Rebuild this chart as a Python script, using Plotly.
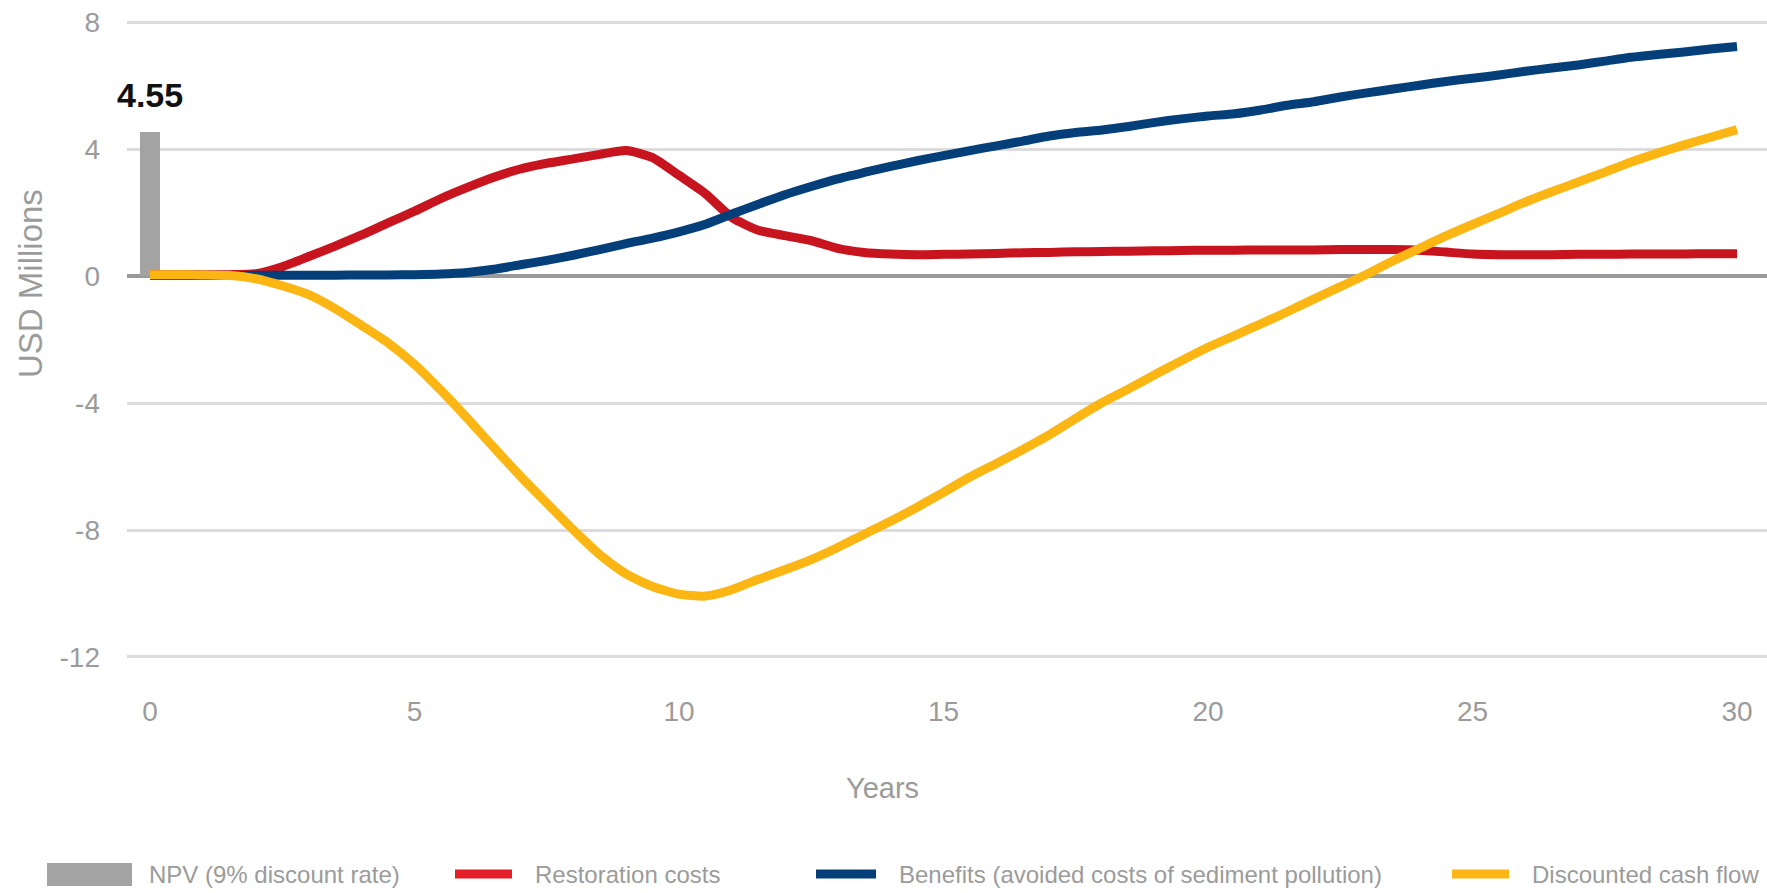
import plotly.graph_objects as go

# ---------------- data ----------------
years = [0, 0.5, 1, 1.5, 2, 2.5, 3, 3.5, 4, 4.5, 5, 5.5, 6, 6.5, 7, 7.5, 8, 8.5, 9, 9.5,
         10, 10.5, 11, 11.5, 12, 12.5, 13, 13.5, 14, 14.5, 15, 15.5, 16, 16.5, 17, 17.5,
         18, 18.5, 19, 19.5, 20, 20.5, 21, 21.5, 22, 22.5, 23, 23.5, 24, 24.5, 25, 25.5,
         26, 26.5, 27, 27.5, 28, 28.5, 29, 29.5, 30]

restoration_costs = [0.05, 0.05, 0.05, 0.05, 0.08, 0.30, 0.62, 0.95, 1.30, 1.68, 2.05, 2.45,
                     2.80, 3.12, 3.38, 3.56, 3.70, 3.84, 3.96, 3.74, 3.18, 2.60, 1.85, 1.45,
                     1.28, 1.12, 0.88, 0.75, 0.70, 0.68, 0.69, 0.70, 0.72, 0.74, 0.75, 0.77,
                     0.78, 0.79, 0.80, 0.81, 0.82, 0.82, 0.83, 0.83, 0.83, 0.84, 0.84, 0.84,
                     0.82, 0.76, 0.70, 0.68, 0.68, 0.68, 0.69, 0.69, 0.70, 0.70, 0.70, 0.71, 0.71]

benefits = [0.02, 0.02, 0.02, 0.02, 0.03, 0.03, 0.03, 0.03, 0.04, 0.04, 0.05, 0.07,
            0.12, 0.22, 0.36, 0.50, 0.66, 0.84, 1.03, 1.20, 1.40, 1.64, 1.96, 2.27,
            2.57, 2.83, 3.07, 3.27, 3.46, 3.64, 3.80, 3.96, 4.11, 4.26, 4.42, 4.53,
            4.61, 4.72, 4.85, 4.96, 5.05, 5.12, 5.24, 5.39, 5.50, 5.65, 5.78, 5.90,
            6.02, 6.14, 6.24, 6.34, 6.46, 6.56, 6.66, 6.78, 6.90, 6.99, 7.07, 7.16, 7.24]

discounted_cash_flow = [0.05, 0.05, 0.04, 0.02, -0.08, -0.30, -0.58, -1.02, -1.55, -2.10,
                        -2.78, -3.60, -4.48, -5.40, -6.30, -7.15, -7.99, -8.77, -9.38, -9.78,
                        -10.02, -10.08, -9.88, -9.55, -9.25, -8.93, -8.55, -8.13, -7.72, -7.28,
                        -6.81, -6.33, -5.90, -5.46, -5.00, -4.48, -3.98, -3.55, -3.10, -2.66,
                        -2.24, -1.87, -1.50, -1.12, -0.72, -0.33, 0.06, 0.49, 0.88, 1.27,
                        1.63, 1.98, 2.34, 2.66, 2.97, 3.28, 3.60, 3.88, 4.14, 4.38, 4.62]

npv_year = [0]
npv_value = [4.55]

x_ticks = [0, 5, 10, 15, 20, 25, 30]
y_ticks = [-12, -8, -4, 0, 4, 8]

series_names = ["NPV (9% discount rate)", "Restoration costs",
                "Benefits (avoided costs of sediment pollution)", "Discounted cash flow"]

# ---------------- style ----------------
FONT = "Liberation Sans, Arial, sans-serif"
GREY_TXT = "#9b9b9b"
C_BAR = "#a3a3a3"
C_RED = "#c8141f"
C_BLUE = "#053f7a"
C_YEL = "#fbb614"
C_RED_LEG = "#e41f27"

W, H = 1767, 893
ML, MR, MT, MB = 127, 0, 4, 217
PW, PH = W - ML - MR, H - MT - MB


def px_x(p):
    return (p - ML) / PW


def px_y(p):
    return (MT + PH - p) / PH


fig = go.Figure()

fig.add_trace(go.Bar(x=npv_year, y=npv_value, width=0.36, marker_color=C_BAR,
                     marker_line_width=0, name=series_names[0], showlegend=False))
fig.add_trace(go.Scatter(x=years, y=restoration_costs, mode="lines", name=series_names[1],
                         line=dict(color=C_RED, width=9, shape="spline", smoothing=0.6),
                         showlegend=False))
fig.add_trace(go.Scatter(x=years, y=benefits, mode="lines", name=series_names[2],
                         line=dict(color=C_BLUE, width=9, shape="spline", smoothing=0.6),
                         showlegend=False))
fig.add_trace(go.Scatter(x=years, y=discounted_cash_flow, mode="lines", name=series_names[3],
                         line=dict(color=C_YEL, width=9, shape="spline", smoothing=0.6),
                         showlegend=False))

# NPV value label
fig.add_annotation(x=npv_year[0], y=npv_value[0], text=f"<b>{npv_value[0]:.2f}</b>",
                   showarrow=False, yanchor="bottom", yshift=16,
                   font=dict(family=FONT, size=34, color="#111111"))

# axis titles
fig.add_annotation(xref="paper", yref="paper", x=px_x(30), y=px_y(284), text="USD Millions",
                   textangle=-90, showarrow=False, xanchor="center", yanchor="middle",
                   font=dict(family=FONT, size=33, color=GREY_TXT))
fig.add_annotation(xref="paper", yref="paper", x=px_x(882), y=px_y(788), text="Years",
                   showarrow=False, xanchor="center", yanchor="middle",
                   font=dict(family=FONT, size=29, color=GREY_TXT))

# custom legend
leg_y = 874
shapes = [
    dict(type="rect", xref="paper", yref="paper", x0=px_x(47), x1=px_x(132),
         y0=px_y(886), y1=px_y(863), fillcolor=C_BAR, line_width=0),
    dict(type="line", xref="paper", yref="paper", x0=px_x(455), x1=px_x(512),
         y0=px_y(leg_y), y1=px_y(leg_y), line=dict(color=C_RED_LEG, width=9)),
    dict(type="line", xref="paper", yref="paper", x0=px_x(816), x1=px_x(876),
         y0=px_y(leg_y), y1=px_y(leg_y), line=dict(color=C_BLUE, width=9)),
    dict(type="line", xref="paper", yref="paper", x0=px_x(1452), x1=px_x(1509),
         y0=px_y(leg_y), y1=px_y(leg_y), line=dict(color=C_YEL, width=9)),
]
for s in shapes:
    fig.add_shape(**s)

leg_text_x = [147, 533, 897, 1530]
for name, xp in zip(series_names, leg_text_x):
    fig.add_annotation(xref="paper", yref="paper", x=px_x(xp), y=px_y(leg_y), text=name,
                       showarrow=False, xanchor="left", yanchor="middle",
                       font=dict(family=FONT, size=24, color=GREY_TXT))

x0_px = 150
px_per_year = 52.9
x_lo = -(x0_px - ML) / px_per_year
x_hi = x_lo + PW / px_per_year

fig.update_layout(
    width=W, height=H,
    margin=dict(l=ML, r=MR, t=MT, b=MB, pad=0),
    paper_bgcolor="white", plot_bgcolor="white",
    showlegend=False,
    bargap=0,
    font=dict(family=FONT, color=GREY_TXT),
    xaxis=dict(range=[x_lo, x_hi], tickvals=x_ticks, ticktext=[str(v) for v in x_ticks],
               showgrid=False, zeroline=False, showline=False, ticks="", ticklabelstandoff=16,
               tickfont=dict(family=FONT, size=28, color=GREY_TXT)),
    yaxis=dict(range=[-12.6, 8.58], tickvals=y_ticks, ticktext=[str(v) for v in y_ticks],
               showgrid=True, gridcolor="#dcdcdc", gridwidth=3, zeroline=True,
               zerolinecolor="#9a9a9a", zerolinewidth=4, showline=False, ticks="",
               ticklabelstandoff=26, tickfont=dict(family=FONT, size=28, color=GREY_TXT)),
)

fig.write_html("out.html")
